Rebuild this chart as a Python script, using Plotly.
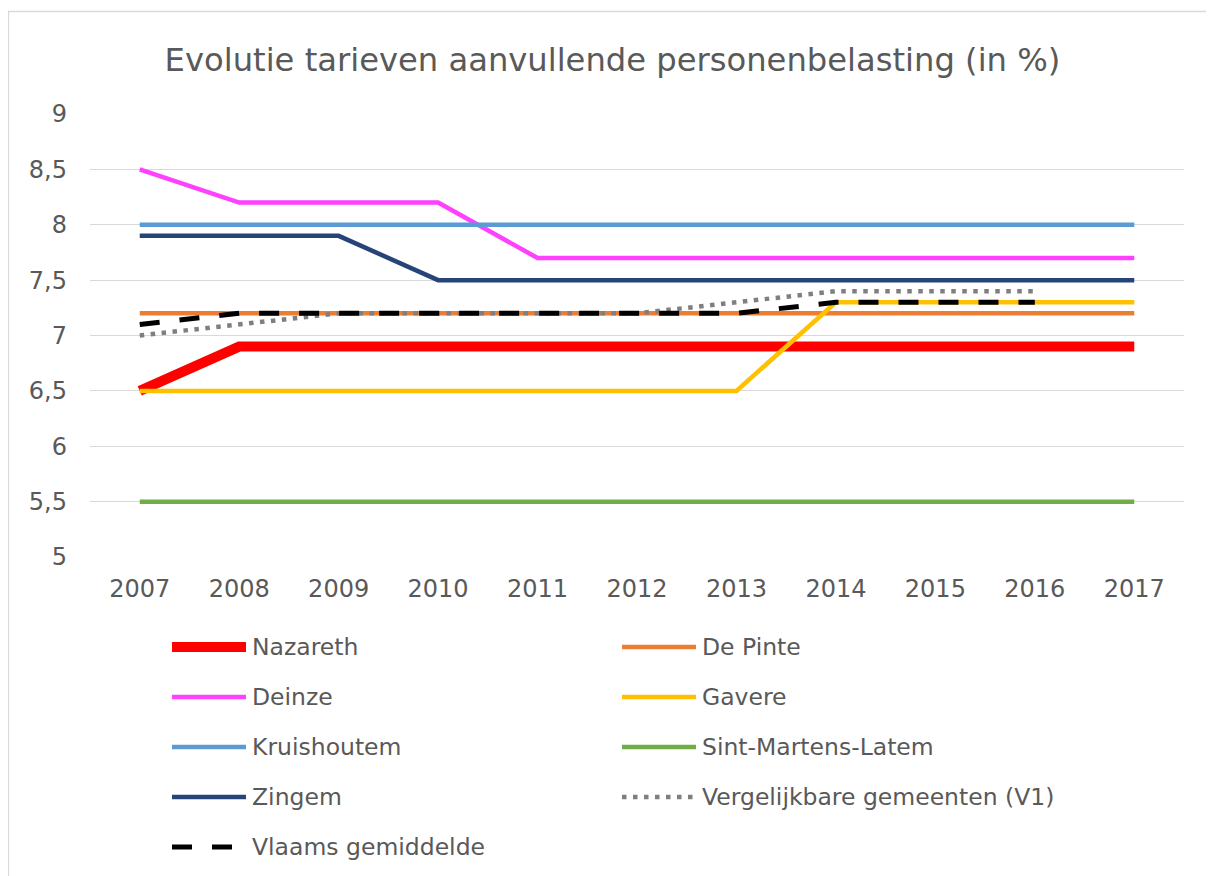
import plotly.graph_objects as go

years = [2007, 2008, 2009, 2010, 2011, 2012, 2013, 2014, 2015, 2016, 2017]
years_v = [2007, 2008, 2009, 2010, 2011, 2012, 2013, 2014, 2015, 2016]

nazareth = [6.5, 6.9, 6.9, 6.9, 6.9, 6.9, 6.9, 6.9, 6.9, 6.9, 6.9]
de_pinte = [7.2, 7.2, 7.2, 7.2, 7.2, 7.2, 7.2, 7.2, 7.2, 7.2, 7.2]
deinze = [8.5, 8.2, 8.2, 8.2, 7.7, 7.7, 7.7, 7.7, 7.7, 7.7, 7.7]
gavere = [6.5, 6.5, 6.5, 6.5, 6.5, 6.5, 6.5, 7.3, 7.3, 7.3, 7.3]
kruishoutem = [8.0, 8.0, 8.0, 8.0, 8.0, 8.0, 8.0, 8.0, 8.0, 8.0, 8.0]
sml = [5.5, 5.5, 5.5, 5.5, 5.5, 5.5, 5.5, 5.5, 5.5, 5.5, 5.5]
zingem = [7.9, 7.9, 7.9, 7.5, 7.5, 7.5, 7.5, 7.5, 7.5, 7.5, 7.5]
v1 = [7.0, 7.1, 7.2, 7.2, 7.2, 7.2, 7.3, 7.4, 7.4, 7.4]
vlaams = [7.1, 7.2, 7.2, 7.2, 7.2, 7.2, 7.2, 7.3, 7.3, 7.3]

series_names = ["Nazareth", "De Pinte", "Deinze", "Gavere", "Kruishoutem",
                "Sint-Martens-Latem", "Zingem", "Vergelijkbare gemeenten (V1)",
                "Vlaams gemiddelde"]
series_x = [years, years, years, years, years, years, years, years_v, years_v]
series_y = [nazareth, de_pinte, deinze, gavere, kruishoutem, sml, zingem, v1, vlaams]
colors = ["#FF0000", "#ED7D31", "#FF40FF", "#FFC000", "#5B9BD5",
          "#70AD47", "#264478", "#7F7F7F", "#000000"]
widths = [10, 4.5, 4.5, 4.5, 4.5, 4.5, 4.5, 4.5, 5]
dashes = ["solid"] * 7 + ["4.5px,6.5px", "20px,20px"]

title = "Evolutie tarieven aanvullende personenbelasting (in %)"
TXT = "#595959"
FONT = "DejaVu Sans"

# page body has an 8px margin; work in target-pixel coordinates and shift
OFF = 8
W, H = 1214 - OFF, 876 - OFF
L, R, T, B = 90 - OFF, 1184 - OFF, 114 - OFF, 557 - OFF

fig = go.Figure()
for n, x, y, c, w, d in zip(series_names, series_x, series_y, colors, widths, dashes):
    fig.add_trace(go.Scatter(x=x, y=y, mode="lines", name=n,
                             line=dict(color=c, width=w, dash=d),
                             showlegend=False, hoverinfo="x+y+name"))

def px(xp):
    return (xp - OFF - L) / (R - L)

def py(yp):
    return (B - (yp - OFF)) / (B - T)

shapes = []
annotations = []
for i, n in enumerate(series_names):
    col, row = i % 2, i // 2
    yc = 647 + 50 * row
    x0 = 172 + 450 * col
    shapes.append(dict(type="line", xref="paper", yref="paper",
                       x0=px(x0), x1=px(x0 + 74), y0=py(yc), y1=py(yc),
                       line=dict(color=colors[i], width=widths[i], dash=dashes[i])))
    annotations.append(dict(xref="paper", yref="paper", x=px(x0 + 78), y=py(yc),
                            xanchor="left", yanchor="middle", showarrow=False,
                            text=n, font=dict(family=FONT, size=23.5, color=TXT)))

shapes.append(dict(type="rect", xref="paper", yref="paper",
                   x0=px(8.5), x1=px(1240), y0=py(11.5), y1=py(900),
                   line=dict(color="#D9D9D9", width=1.3), fillcolor="rgba(0,0,0,0)",
                   layer="below"))

fig.update_layout(
    width=W, height=H,
    margin=dict(l=L, r=W - R, t=T, b=H - B),
    paper_bgcolor="white", plot_bgcolor="white",
    separators=", ",
    title=dict(text=title, x=(612.5 - OFF) / W, xanchor="center", xref="container",
               y=1 - (60 - OFF) / H, yref="container", yanchor="middle",
               font=dict(family=FONT, size=32.2, color=TXT)),
    xaxis=dict(range=[2006.5, 2017.5], tickmode="array", tickvals=years,
               showgrid=False, zeroline=False, showline=False,
               ticks="", ticklabelstandoff=15,
               tickfont=dict(family=FONT, size=24, color=TXT), fixedrange=True),
    yaxis=dict(range=[5, 9], dtick=0.5, tick0=5, showgrid=True,
               gridcolor="#D9D9D9", gridwidth=1.3, zeroline=False, showline=False,
               ticks="", ticklabelstandoff=22,
               tickfont=dict(family=FONT, size=24, color=TXT), fixedrange=True),
    shapes=shapes, annotations=annotations,
    showlegend=False,
)

fig.write_html("out.html")
